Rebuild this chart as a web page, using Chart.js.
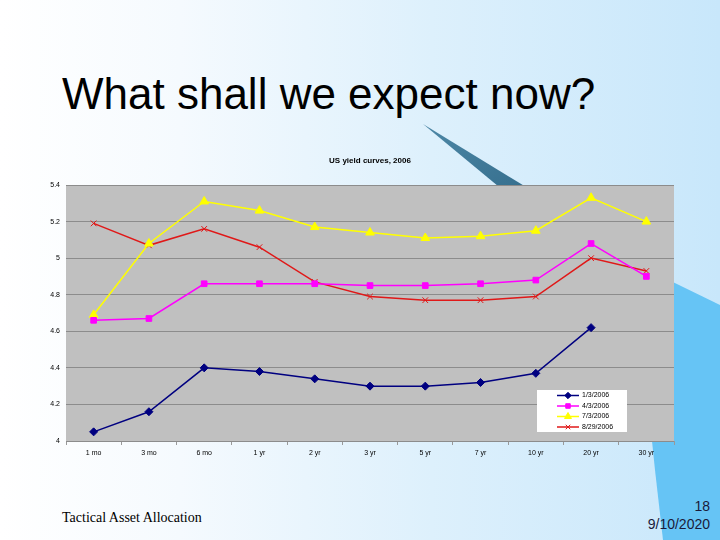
<!DOCTYPE html>
<html>
<head>
<meta charset="utf-8">
<script src="https://cdn.jsdelivr.net/npm/chart.js@4.4.0/dist/chart.umd.min.js"></script>
<style>
html,body{margin:0;padding:0;width:720px;height:540px;overflow:hidden;}
#slide{position:relative;width:720px;height:540px;background:linear-gradient(to right,#ffffff 0%,#f5fafe 25%,#ddf0fc 60%,#c8e7fb 100%);}
#deco{position:absolute;left:0;top:0;}
#title{position:absolute;left:62px;top:69px;font-family:"Liberation Sans",Arial,sans-serif;font-size:44px;color:#000;white-space:nowrap;}
#foot{position:absolute;left:62px;top:510px;font-family:"Liberation Serif","Times New Roman",serif;font-size:14px;color:#000;}
#num{position:absolute;right:10px;top:497px;text-align:right;font-family:"Liberation Sans",Arial,sans-serif;font-size:14px;line-height:18px;color:#1a1a3a;}
#c{position:absolute;left:0;top:0;}
</style>
</head>
<body>
<div id="slide">
<svg id="deco" width="720" height="540">
<defs>
<linearGradient id="wg" x1="0" y1="0" x2="1" y2="1">
<stop offset="0" stop-color="#4d87a6"/><stop offset="1" stop-color="#2c6584"/>
</linearGradient>
</defs>
<polygon points="423,124 572,215 533,215" fill="url(#wg)"/>
<polygon points="640,266 720,305 720,540 663,540 655,470 652,441" fill="#66c4f5"/>
</svg>
<div id="title">What shall we expect now?</div>
<div id="foot">Tactical Asset Allocation</div>
<div id="num">18<br>9/10/2020</div>
<canvas id="c" width="720" height="540"></canvas>
</div>
<script>
const categories = ["1 mo","3 mo","6 mo","1 yr","2 yr","3 yr","5 yr","7 yr","10 yr","20 yr","30 yr"];
const seriesNames = ["1/3/2006","4/3/2006","7/3/2006","8/29/2006"];
const jan = [4.05,4.16,4.40,4.38,4.34,4.30,4.30,4.32,4.37,4.62,null];
const apr = [4.66,4.67,4.86,4.86,4.86,4.85,4.85,4.86,4.88,5.08,4.90];
const jul = [4.69,5.08,5.31,5.26,5.17,5.14,5.11,5.12,5.15,5.33,5.20];
const aug = [5.19,5.07,5.16,5.06,4.87,4.79,4.77,4.77,4.79,5.00,4.93];
const yMin = 4, yMax = 5.4, yStep = 0.2;

const FONT = '"Liberation Sans", Arial, sans-serif';

const plotBg = {
  id:'plotBg',
  beforeDraw(chart){
    const a = chart.chartArea, ctx = chart.ctx;
    ctx.save(); ctx.fillStyle = '#c0c0c0';
    ctx.fillRect(a.left, a.top, a.right-a.left, a.bottom-a.top);
    ctx.restore();
  }
};

const boxLegend = {
  id:'boxLegend',
  afterDatasetsDraw(chart){
    const ctx = chart.ctx;
    const x = 537, y = 390, w = 90, h = 42;
    ctx.save();
    ctx.fillStyle = '#ffffff';
    ctx.fillRect(x, y, w, h);
    chart.data.datasets.forEach((ds, i) => {
      const cy = y + 5.5 + i*10.5;
      ctx.strokeStyle = ds.borderColor; ctx.lineWidth = 1.5;
      ctx.beginPath(); ctx.moveTo(557, cy); ctx.lineTo(579, cy); ctx.stroke();
      ctx.fillStyle = ds.pointBackgroundColor;
      ctx.strokeStyle = ds.pointBorderColor;
      ctx.lineWidth = 1;
      Chart.helpers.drawPoint(ctx, {pointStyle: ds.pointStyle, radius: ds.pointRadius*0.8, borderWidth: 1}, 568, cy);
      ctx.fillStyle = '#000';
      ctx.font = '7px ' + FONT;
      ctx.textBaseline = 'middle'; ctx.textAlign = 'left';
      ctx.fillText(ds.label, 582, cy);
    });
    ctx.restore();
  }
};

function mk(label, data, color, style, r, bw){
  return {label, data, borderColor: color, backgroundColor: color,
    pointStyle: style, pointRadius: r, pointHoverRadius: r,
    pointBackgroundColor: color, pointBorderColor: color, pointBorderWidth: bw,
    borderWidth: 1.5, tension: 0, spanGaps: false};
}

new Chart(document.getElementById('c'), {
  type:'line',
  data:{
    labels: categories,
    datasets:[
      mk(seriesNames[0], jan, '#000080', 'rectRot', 4, 1),
      mk(seriesNames[1], apr, '#ff00ff', 'rect', 4, 1),
      mk(seriesNames[2], jul, '#ffff00', 'triangle', 5, 1),
      mk(seriesNames[3], aug, '#e01818', 'crossRot', 4, 1)
    ]
  },
  options:{
    responsive:false, animation:false, devicePixelRatio:1,
    layout:{padding:{left:30, right:46, top:156, bottom:75}},
    plugins:{
      legend:{display:false},
      tooltip:{enabled:false},
      title:{display:true, text:'US yield curves, 2006', fullSize:false,
        color:'#000', font:{family:FONT, size:8, weight:'bold', lineHeight:1.2},
        padding:{top:0, bottom:19.4}}
    },
    scales:{
      x:{
        offset:true,
        grid:{display:true, offset:true, drawOnChartArea:false, drawTicks:true, tickLength:4, color:'#999999'},
        border:{display:false},
        ticks:{color:'#000', font:{family:FONT, size:7}, padding:4, maxRotation:0, autoSkip:false},
        afterFit(s){ s.height = 24; }
      },
      y:{
        min:yMin, max:yMax,
        grid:{color:'#8c8c8c', lineWidth:1, drawTicks:false},
        border:{display:false},
        ticks:{stepSize:yStep, color:'#000', font:{family:FONT, size:7}, padding:6,
          callback:(v)=>String(Number(v.toFixed(1)))},
        afterFit(s){ s.width = 36; }
      }
    }
  },
  plugins:[plotBg, boxLegend]
});
</script>
</body>
</html>
